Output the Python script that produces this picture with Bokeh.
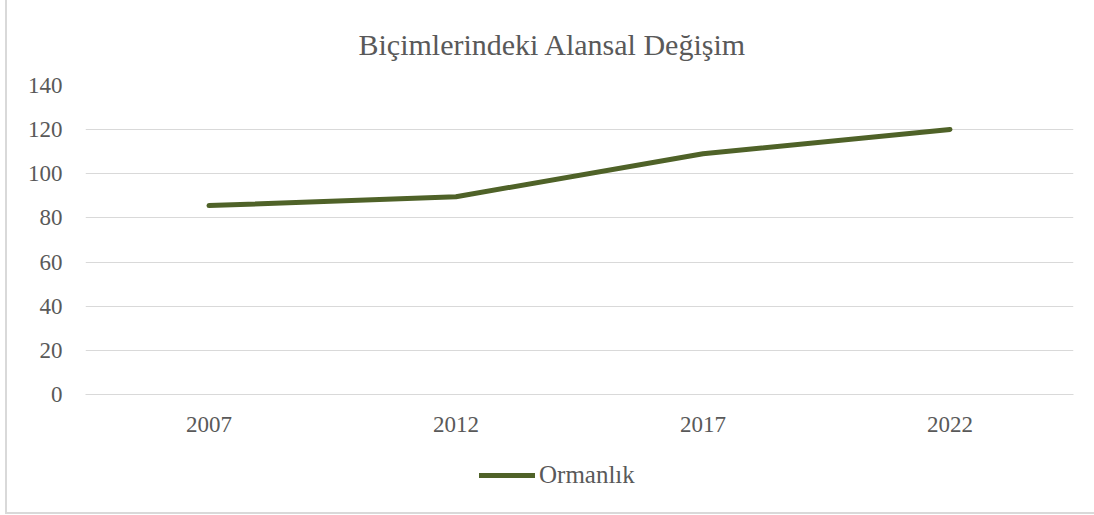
from bokeh.plotting import figure
from bokeh.models import FactorRange, Range1d, Legend, LegendItem, FixedTicker
from bokeh.layouts import column
from bokeh.embed import file_html
from bokeh.resources import INLINE

years = ["2007", "2012", "2017", "2022"]
ormanlik = [85.6, 89.6, 109.1, 120.1]
y_ticks = [0, 20, 40, 60, 80, 100, 120, 140]
title_text = "Biçimlerindeki Alansal Değişim"
series_name = "Ormanlık"

FONT = "Liberation Serif"
TXT = "#595959"
GRID = "#d9d9d9"
LINE = "#4F6228"

p = figure(width=1087, height=450, x_range=FactorRange(*years, range_padding=0),
           y_range=Range1d(0, 140), output_backend="svg", toolbar_location=None,
           min_border_left=78, min_border_right=21, min_border_top=85, min_border_bottom=56)
p.outline_line_color = None

r = p.line(x=years, y=ormanlik, line_color=LINE, line_width=5, line_cap="round", line_join="round")

p.title.text = title_text
p.title.align = "left"
p.title.offset = 273
p.title.text_font = FONT
p.title.text_font_size = "30px"
p.title.text_font_style = "normal"
p.title.text_color = TXT
p.title.standoff = 49

p.yaxis.ticker = FixedTicker(ticks=y_ticks)
p.yaxis.axis_line_color = None
p.yaxis.major_tick_line_color = None
p.yaxis.minor_tick_line_color = None
p.yaxis.major_label_standoff = 17
p.yaxis.major_label_text_font = FONT
p.yaxis.major_label_text_font_size = "23px"
p.yaxis.major_label_text_color = TXT

p.xaxis.axis_line_color = GRID
p.xaxis.axis_line_width = 1
p.xaxis.major_tick_line_color = None
p.xaxis.minor_tick_line_color = None
p.xaxis.major_label_standoff = 16
p.xaxis.major_label_text_font = FONT
p.xaxis.major_label_text_font_size = "23px"
p.xaxis.major_label_text_color = TXT

p.xgrid.grid_line_color = None
p.ygrid.grid_line_color = GRID
p.ygrid.grid_line_width = 1

# legend strip below the chart
leg = figure(width=1087, height=62, x_range=FactorRange(*years, range_padding=0),
             y_range=Range1d(0, 140), output_backend="svg", toolbar_location=None,
             x_axis_type=None, y_axis_type=None,
             min_border_left=0, min_border_right=0, min_border_top=0, min_border_bottom=0)
leg.outline_line_color = None
leg.xgrid.grid_line_color = None
leg.ygrid.grid_line_color = None
lr = leg.line(x=years, y=ormanlik, line_color=LINE, line_width=5, line_cap="round")
lr.visible = False

legend = Legend(items=[LegendItem(label=series_name, renderers=[lr])], orientation="horizontal",
                location=(394, 23), border_line_color=None, background_fill_alpha=0,
                inactive_fill_alpha=0,
                label_text_font=FONT, label_text_font_size="25px", label_text_color=TXT,
                glyph_width=56, label_standoff=4, padding=0, margin=0)
leg.add_layout(legend, "center")

layout = column(p, leg, spacing=0,
                styles={"margin-left": "5px", "border-left": "2px solid #d9d9d9",
                        "border-bottom": "2px solid #d9d9d9"})

open("out.html", "w").write(file_html(layout, INLINE))
